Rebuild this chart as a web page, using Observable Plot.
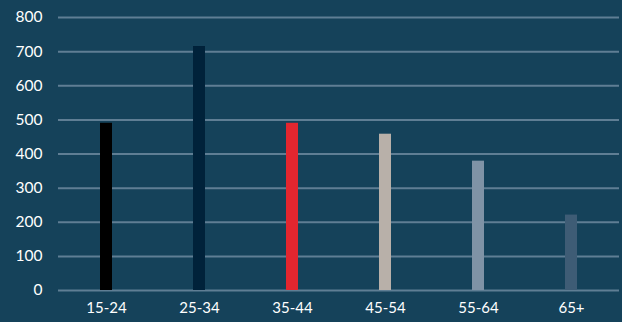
<!DOCTYPE html>
<html>
<head>
<meta charset="utf-8">
<script src="https://cdn.jsdelivr.net/npm/d3@7"></script>
<script src="https://cdn.jsdelivr.net/npm/@observablehq/plot@0.6"></script>
<style>
  html, body { margin: 0; padding: 0; background: #15425a; }
  #chart svg { display: block; }
</style>
</head>
<body>
<div id="chart"></div>
<script>
// Age groups and their counts
const ageGroups = ["15-24", "25-34", "35-44", "45-54", "55-64", "65+"];
const counts = [490, 715, 490, 458, 379, 221];
const barColors = ["#000000", "#00223a", "#e3262f", "#b8b0a9", "#7f93a6", "#3e5c75"];
const yTicks = [0, 100, 200, 300, 400, 500, 600, 700, 800];

const rows = ageGroups.map((group, i) => ({group, count: counts[i], color: barColors[i]}));

const chart = Plot.plot({
  width: 622,
  height: 322,
  marginTop: 17,
  marginBottom: 32,
  marginLeft: 58,
  marginRight: 3,
  style: {background: "#15425a", color: "#ffffff", fontFamily: "Lato, 'Open Sans', sans-serif", fontSize: "15px"},
  x: {domain: ageGroups, paddingInner: 0.87, paddingOuter: 0.435, align: 0.5, label: null},
  y: {domain: [0, 800], label: null},
  marks: [
    Plot.ruleY(yTicks, {stroke: "#5f7e94", strokeWidth: 2}),
    Plot.barY(rows, {x: "group", y: "count", fill: "color"}),
    Plot.axisY(yTicks, {tickSize: 0, tickPadding: 16, label: null, fill: "#ffffff", fontSize: 15.5}),
    Plot.axisX({tickSize: 0, tickPadding: 12, label: null, fill: "#ffffff", fontSize: 15})
  ]
});

document.getElementById("chart").appendChild(chart);
</script>
</body>
</html>
